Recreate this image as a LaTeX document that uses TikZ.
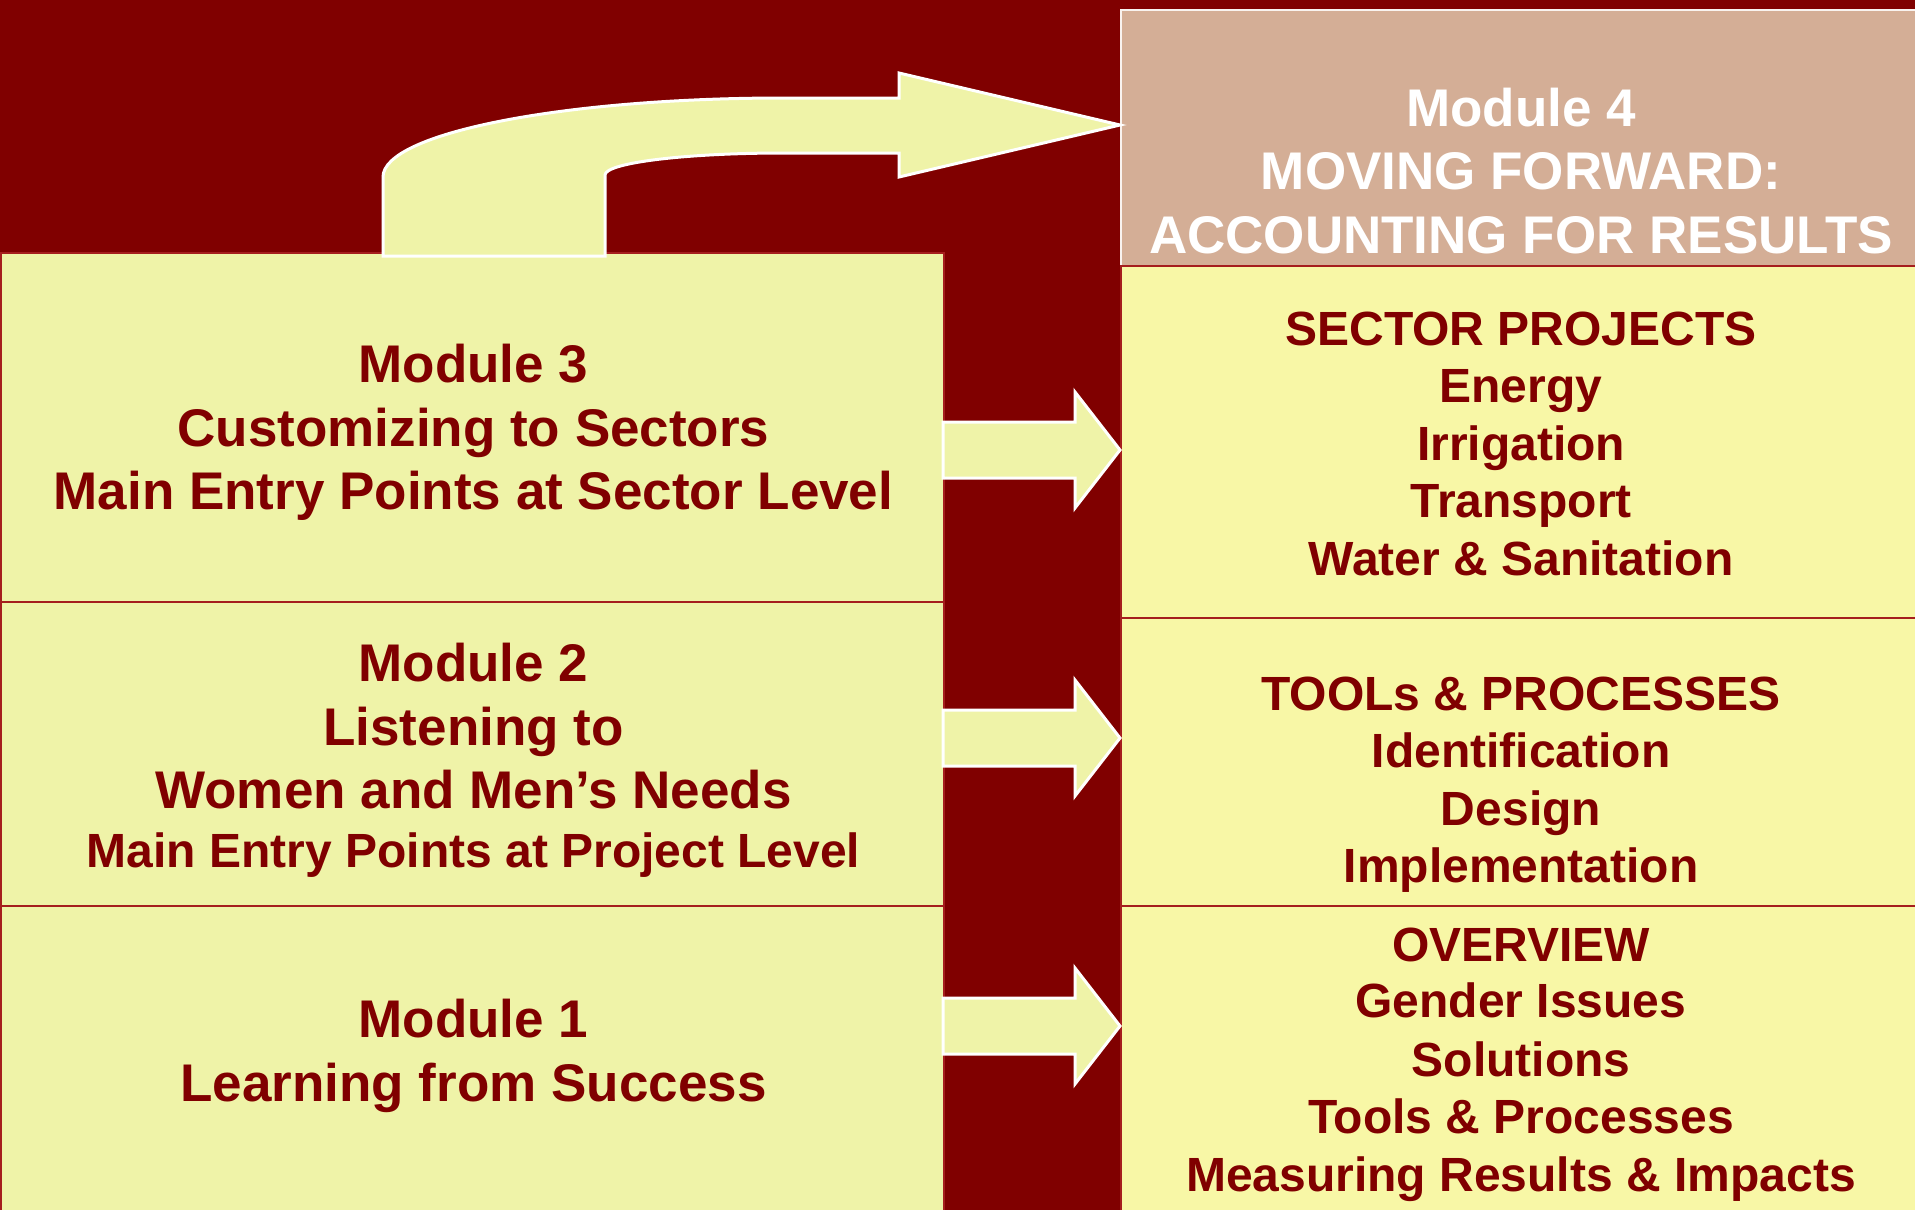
\documentclass[tikz,border=0pt]{standalone}
\usepackage{fontspec}
\setmainfont{Liberation Sans}
\definecolor{bgred}{RGB}{128,0,0}
\definecolor{lfill}{RGB}{239,243,168}
\definecolor{rfill}{RGB}{248,247,166}
\definecolor{tan}{RGB}{212,174,150}
\definecolor{edge}{RGB}{165,30,30}
\tikzset{
  lbox/.style={draw=edge, line width=2pt, fill=lfill, anchor=north west, inner sep=0pt, minimum width=943pt},
  rbox/.style={draw=edge, line width=2pt, fill=rfill, anchor=north west, inner sep=0pt, minimum width=800pt},
  mbox/.style={draw=white!85!tan, line width=2pt, fill=tan, anchor=north west, inner sep=0pt, minimum width=800pt},
  big/.style={anchor=base, inner sep=0pt, text=bgred, font=\bfseries\fontsize{53}{63}\selectfont},
  small/.style={anchor=base, inner sep=0pt, text=bgred, font=\bfseries\fontsize{48}{57}\selectfont},
  white big/.style={big, text=white},
  blockarrow/.style={fill=lfill, draw=white, line width=3pt, line join=miter}
}
\begin{document}
\begin{tikzpicture}[x=1pt, y=-1pt]
\fill[bgred] (0,0) rectangle (1915,1210);
\useasboundingbox (0,0) rectangle (1915,1210);
% left boxes
\node[lbox, minimum height=349pt] (m3) at (0,252) {};
\node[lbox, minimum height=304pt] (m2) at (0,601) {};
\node[lbox, minimum height=306pt] (m1) at (0,905) {};
% right boxes
\node[mbox, minimum height=256pt] (m4) at (1120,9) {};
\node[rbox, minimum height=352pt] (sp) at (1120,265) {};
\node[rbox, minimum height=288pt] (tp) at (1120,617) {};
\node[rbox, minimum height=306pt] (ov) at (1120,905) {};
% curved arrow
\draw[blockarrow] (383,256) -- (383,177) .. controls (383,133.4) and (562.5,98) .. (784,98)
  -- (899,98) -- (899,73) -- (1120,125) -- (899,177) -- (899,153) -- (784,153)
  .. controls (685.1,153) and (605,162.8) .. (605,175) -- (605,256) -- cycle;
% straight block arrows
\foreach \c/\n in {450/a3, 738/a2, 1026/a1}{
  \draw[blockarrow] (943,\c-28) -- (1075,\c-28) -- (1075,\c-58) -- (1120,\c)
    -- (1075,\c+58) -- (1075,\c+28) -- (943,\c+28) -- cycle;
}
% left texts
\node[big] (t31) at (473.5,382) {Module 3};
\node[big] (t32) at (473.5,446) {Customizing to Sectors};
\node[big] (t33) at (473.5,509) {Main Entry Points at Sector Level};
\node[big] (t21) at (473.5,681) {Module 2};
\node[big] (t22) at (473.5,745) {Listening to};
\node[big] (t23) at (473.5,808) {Women and Men’s Needs};
\node[small] (t24) at (473.5,867) {Main Entry Points at Project Level};
\node[big] (t11) at (473.5,1037) {Module 1};
\node[big] (t12) at (473.5,1101) {Learning from Success};
% module 4
\node[white big] (t41) at (1521,126) {Module 4};
\node[white big] (t42) at (1521,189) {MOVING FORWARD:};
\node[white big] (t43) at (1521,253) {ACCOUNTING FOR RESULTS};
% sector projects
\node[small] (s1) at (1521,345) {SECTOR PROJECTS};
\node[small] (s2) at (1521,402) {Energy};
\node[small] (s3) at (1521,460) {Irrigation};
\node[small] (s4) at (1521,517) {Transport};
\node[small] (s5) at (1521,575) {Water \& Sanitation};
% tools
\node[small] (p1) at (1521,710) {TOOLs \& PROCESSES};
\node[small] (p2) at (1521,767) {Identification};
\node[small] (p3) at (1521,825) {Design};
\node[small] (p4) at (1521,882) {Implementation};
% overview
\node[small] (o1) at (1521,961) {OVERVIEW};
\node[small] (o2) at (1521,1017) {Gender Issues};
\node[small] (o3) at (1521,1076) {Solutions};
\node[small] (o4) at (1521,1133) {Tools \& Processes};
\node[small] (o5) at (1521,1191) {Measuring Results \& Impacts};
\end{tikzpicture}
\end{document}
